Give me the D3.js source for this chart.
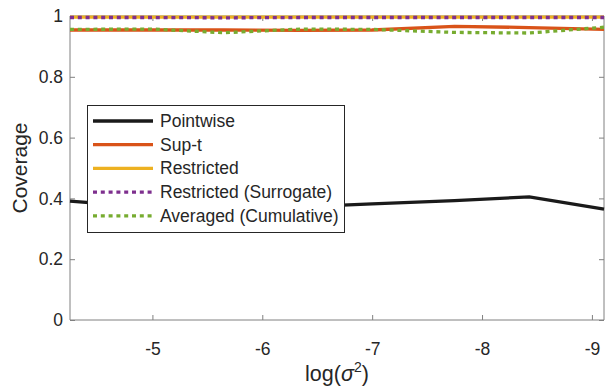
<!DOCTYPE html>
<html>
<head>
<meta charset="utf-8">
<script src="https://cdn.jsdelivr.net/npm/d3@7"></script>
<style>
body { margin: 0; background: #fff; }
svg text { font-family: "Liberation Sans", Arial, sans-serif; fill: #262626; }
</style>
</head>
<body>
<div class="content"></div>
<script>
var logSigma2 = [-4.25, -5.0, -5.65, -6.35, -7.0, -7.75, -8.43, -9.11];
var pointwise = [0.391, 0.37, 0.365, 0.372, 0.382, 0.393, 0.405, 0.365];
var supT = [0.954, 0.954, 0.954, 0.953, 0.954, 0.966, 0.962, 0.956];
var restricted = [0.996, 0.996, 0.996, 0.996, 0.996, 0.996, 0.996, 0.996];
var surrogate = [0.995, 0.995, 0.994, 0.995, 0.995, 0.995, 0.995, 0.995];
var averaged = [0.956, 0.957, 0.945, 0.957, 0.956, 0.946, 0.944, 0.963];
var xTicks = [-5, -6, -7, -8, -9];
var yTicks = [0, 0.2, 0.4, 0.6, 0.8, 1];
var seriesNames = ["Pointwise", "Sup-t", "Restricted", "Restricted (Surrogate)", "Averaged (Cumulative)"];

var width = 606, height = 387;
var pLeft = 70, pRight = 604, pTop = 16, pBottom = 320;
var svg = d3.select(".content").append("svg").attr("width", width).attr("height", height);

var x = d3.scaleLinear().domain([-4.25, -9.11]).range([pLeft, pRight]);
var y = d3.scaleLinear().domain([0, 1]).range([pBottom, pTop]);

var series = [
  {name: seriesNames[0], vals: pointwise, color: "#1a1a1a", dash: null},
  {name: seriesNames[1], vals: supT, color: "#D95319", dash: null},
  {name: seriesNames[2], vals: restricted, color: "#EDB120", dash: null},
  {name: seriesNames[3], vals: surrogate, color: "#7E2F8E", dash: "4,3.8"},
  {name: seriesNames[4], vals: averaged, color: "#77AC30", dash: "4,3.8"}
];

var line = d3.line().x(function(d){ return x(d[0]); }).y(function(d){ return y(d[1]); });

// axes (box, ticks inside)
var axisColor = "#808080";
svg.append("g").attr("transform", "translate(0," + pBottom + ")")
  .call(d3.axisBottom(x).tickValues(xTicks).tickSize(-5).tickPadding(23).tickFormat(function(d){ return String(d); }))
  .call(function(g){ g.select(".domain").attr("stroke", axisColor).attr("d", "M" + pLeft + ",0H" + pRight); });
svg.append("g").attr("transform", "translate(0," + pTop + ")")
  .call(d3.axisTop(x).tickValues(xTicks).tickSize(-5).tickFormat(""))
  .call(function(g){ g.select(".domain").attr("stroke", axisColor).attr("d", "M" + pLeft + ",0H" + pRight); });
svg.append("g").attr("transform", "translate(" + pLeft + ",0)")
  .call(d3.axisLeft(y).tickValues(yTicks).tickSize(-5).tickPadding(7).tickFormat(function(d){ return d === 0 || d === 1 ? String(d) : d3.format(".1f")(d); }))
  .call(function(g){ g.select(".domain").attr("stroke", axisColor).attr("d", "M0," + pTop + "V" + pBottom); });
svg.append("g").attr("transform", "translate(" + pRight + ",0)")
  .call(d3.axisRight(y).tickValues(yTicks).tickSize(-5).tickFormat(""))
  .call(function(g){ g.select(".domain").attr("stroke", axisColor).attr("d", "M0," + pTop + "V" + pBottom); });
svg.selectAll(".tick line").attr("stroke", axisColor);
svg.selectAll(".tick text").style("font-size", "17.5px").attr("fill", "#262626");

// lines
series.forEach(function(s){
  svg.append("path").datum(logSigma2.map(function(v, i){ return [v, s.vals[i]]; }))
    .attr("d", line).attr("fill", "none").attr("stroke", s.color).attr("stroke-width", 3.3)
    .attr("stroke-dasharray", s.dash);
});

// axis labels
svg.append("text").attr("x", (pLeft + pRight) / 2).attr("y", 381).attr("text-anchor", "middle")
  .style("font-size", "21.5px").html('log(<tspan font-style="italic">σ</tspan><tspan dy="-9" font-size="14px">2</tspan><tspan dy="9">)</tspan>');
svg.append("text").attr("transform", "translate(27," + ((pTop + pBottom) / 2) + ") rotate(-90)")
  .attr("text-anchor", "middle").style("font-size", "21px").text("Coverage");

// legend
var lg = svg.append("g");
lg.append("rect").attr("x", 87.5).attr("y", 105.5).attr("width", 257).attr("height", 127)
  .attr("fill", "#fff").attr("stroke", "#262626").attr("stroke-width", 1);
series.forEach(function(s, i){
  var yy = 121 + i * 23.7;
  lg.append("line").attr("x1", 93).attr("x2", 153).attr("y1", yy).attr("y2", yy)
    .attr("stroke", s.color).attr("stroke-width", 3.3).attr("stroke-dasharray", s.dash);
  lg.append("text").attr("x", 160).attr("y", yy + 6).style("font-size", "17.5px").text(s.name);
});
</script>
</body>
</html>
